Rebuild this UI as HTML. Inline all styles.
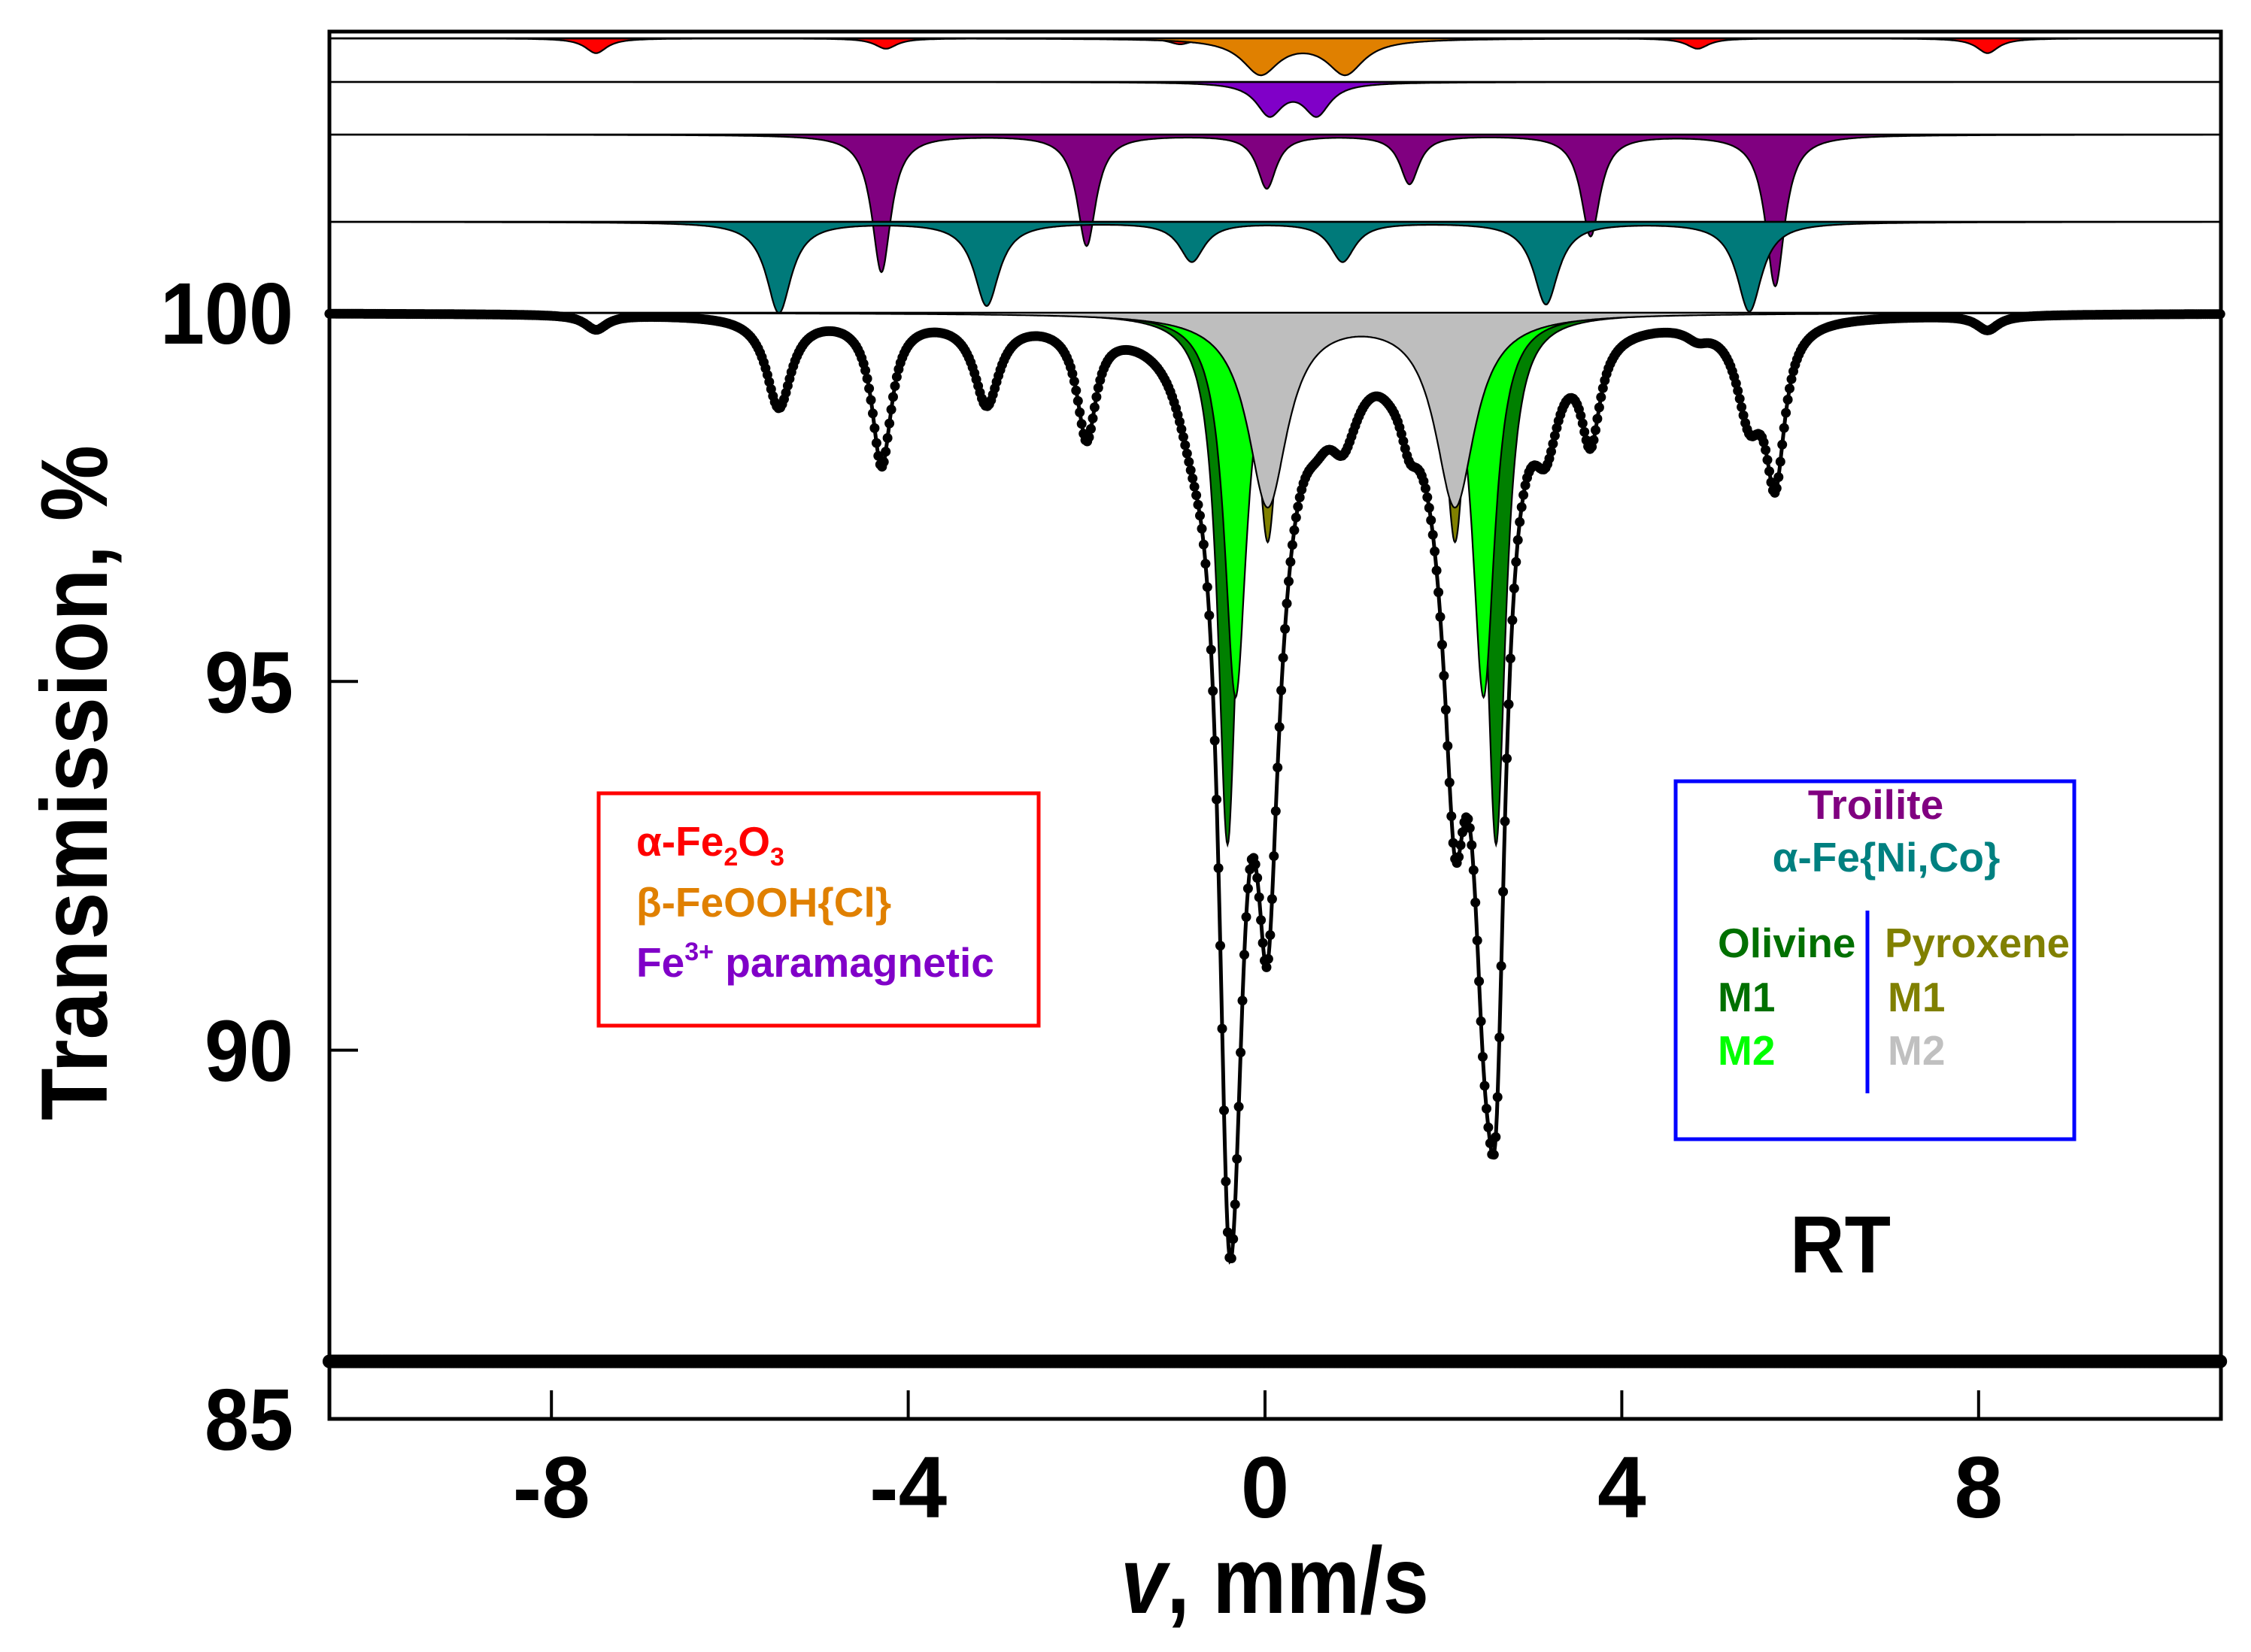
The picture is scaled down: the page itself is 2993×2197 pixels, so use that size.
<!DOCTYPE html>
<html><head><meta charset="utf-8"><style>
html,body{margin:0;padding:0;background:#fff}
svg{display:block}
text{font-family:"Liberation Sans",sans-serif;font-weight:bold}
</style></head><body>
<svg id="chart" width="2993" height="2197" viewBox="0 0 2993 2197" xmlns="http://www.w3.org/2000/svg">
<g id="comps"></g>
<g id="fitg"></g>
<rect x="438" y="42" width="2515" height="1845" fill="none" stroke="#000" stroke-width="5"/>
<g id="axes"></g>
<text x="142" y="1041" transform="rotate(-90 142 1041)" text-anchor="middle" font-size="125" textLength="898" lengthAdjust="spacingAndGlyphs">Transmission, %</text>
<text x="1695" y="2145" text-anchor="middle" font-size="125" textLength="410" lengthAdjust="spacingAndGlyphs"><tspan font-style="italic">v</tspan>, mm/s</text>
<text x="2447" y="1692" text-anchor="middle" font-size="108" textLength="134" lengthAdjust="spacingAndGlyphs">RT</text>
<g>
<rect x="796" y="1055" width="585" height="309" fill="none" stroke="#f00" stroke-width="5"/>
<text x="846" y="1138" font-size="55" fill="#ff0000">α-Fe<tspan font-size="34" dy="13">2</tspan><tspan dy="-13">O</tspan><tspan font-size="34" dy="13">3</tspan></text>
<text x="846" y="1219" font-size="55" fill="#e08000">β-FeOOH{Cl}</text>
<text x="846" y="1299" font-size="55" fill="#8000c8">Fe<tspan font-size="34" dy="-22">3+</tspan><tspan dy="22"> paramagnetic</tspan></text>
</g>
<g>
<rect x="2228" y="1039" width="530" height="476" fill="none" stroke="#0000ff" stroke-width="5"/>
<text x="2494" y="1089" text-anchor="middle" font-size="55" fill="#800080">Troilite</text>
<text x="2508" y="1159" text-anchor="middle" font-size="55" fill="#008080">α-Fe{Ni,Co}</text>
<text x="2284" y="1273" font-size="55" fill="#007000">Olivine</text>
<text x="2506" y="1273" font-size="55" fill="#808000" textLength="246" lengthAdjust="spacingAndGlyphs">Pyroxene</text>
<text x="2284" y="1345" font-size="55" fill="#007000">M1</text>
<text x="2284" y="1416" font-size="55" fill="#00ff00">M2</text>
<text x="2510" y="1345" font-size="55" fill="#808000">M1</text>
<text x="2510" y="1416" font-size="55" fill="#c0c0c0">M2</text>
<line x1="2483" y1="1211" x2="2483" y2="1454" stroke="#0000ff" stroke-width="5"/>
</g>
</svg>
<script>
// axis ranges
const vMin = -10.49, vMax = 10.71;
const xTicks = [-8, -4, 0, 4, 8];
const xTickLabels = ["-8", "-4", "0", "4", "8"];
const yTicks = [85, 90, 95, 100];
const yTickLabels = ["85", "90", "95", "100"];
// hematite sextet
const hemCenters = [-7.5, -4.25, -0.95, 1.4, 4.85, 8.1];
const hemDepths = [0.2, 0.14, 0.08, 0.08, 0.14, 0.2];
// beta-FeOOH doublet
const feoohCenters = [-0.05, 0.9];
const feoohDepths = [0.47, 0.47];
// Fe3+ paramagnetic doublet
const paraCenters = [0.05, 0.58];
const paraDepths = [0.43, 0.43];
// troilite sextet
const troCenters = [-4.3, -2.0, 0.02, 1.62, 3.65, 5.72];
const troDepths = [1.86, 1.5, 0.72, 0.66, 1.37, 2.05];
// alpha-Fe(Ni,Co) sextet
const feniCenters = [-5.45, -3.12, -0.82, 0.87, 3.15, 5.43];
const feniDepths = [1.23, 1.13, 0.53, 0.53, 1.11, 1.21];
// olivine / pyroxene doublets
const olM1Centers = [-0.42, 2.59];
const olM1Depths = [7.2, 7.2];
const olM2Centers = [-0.33, 2.45];
const olM2Depths = [5.2, 5.2];
const pxM1Centers = [0.03, 2.13];
const pxM1Depths = [3.1, 3.1];
const pxM2Centers = [0.03, 2.13];
const pxM2Depths = [2.6, 2.6];

const X = v => 1682 + (v * 118.6);
const Y = p => 1887 - (p - 85) * 98.07;
const PX = 98.07;
const NS = "http://www.w3.org/2000/svg";

function lor(v, cs, ds, g) {
  let s = 0;
  for (let i = 0; i < cs.length; i++) s += ds[i] * g * g / ((v - cs[i]) * (v - cs[i]) + g * g);
  return s;
}
const comps = [
  {c: hemCenters, d: hemDepths, g: 0.15, col: "#ff0000", base: 51, name: "hematite-subspectrum"},
  {c: feoohCenters, d: feoohDepths, g: 0.25, col: "#e08000", base: 51, name: "akaganeite-subspectrum"},
  {c: paraCenters, d: paraDepths, g: 0.18, col: "#8000c8", base: 109, name: "fe3-paramagnetic-subspectrum"},
  {c: troCenters, d: troDepths, g: 0.13, col: "#800080", base: 179, name: "troilite-subspectrum"},
  {c: feniCenters, d: feniDepths, g: 0.17, col: "#007a7a", base: 295, name: "fe-ni-co-subspectrum"},
  {c: olM1Centers, d: olM1Depths, g: 0.13, col: "#008000", base: Y(100), name: "olivine-m1-subspectrum"},
  {c: olM2Centers, d: olM2Depths, g: 0.15, col: "#00ff00", base: Y(100), name: "olivine-m2-subspectrum"},
  {c: pxM1Centers, d: pxM1Depths, g: 0.13, col: "#808000", base: Y(100), name: "pyroxene-m1-subspectrum"},
  {c: pxM2Centers, d: pxM2Depths, g: 0.27, col: "#bebebe", base: Y(100), name: "pyroxene-m2-subspectrum"}
];
const cg = document.getElementById('comps');
comps.forEach(cp => {
  let d = "M" + X(vMin) + "," + cp.base;
  for (let v = vMin; v <= vMax + 1e-9; v += 0.01) {
    d += " L" + X(v).toFixed(1) + "," + (cp.base + lor(v, cp.c, cp.d, cp.g) * PX).toFixed(1);
  }
  d += " L" + X(vMax) + "," + cp.base + " Z";
  const p = document.createElementNS(NS, 'path');
  p.setAttribute('d', d);
  p.setAttribute('fill', cp.col);
  p.setAttribute('stroke', '#000');
  p.setAttribute('stroke-width', '2.2');
  
  
  cg.appendChild(p);
});
[51, 109, 179, 295].forEach(b => {
  const l = document.createElementNS(NS, 'line');
  l.setAttribute('x1', 438); l.setAttribute('x2', 2953);
  l.setAttribute('y1', b); l.setAttribute('y2', b);
  l.setAttribute('stroke', '#000'); l.setAttribute('stroke-width', '2.5');
  
  
  cg.appendChild(l);
});
function total(v) {
  let s = 0;
  comps.forEach(cp => { s += lor(v, cp.c, cp.d, cp.g); });
  return 100 - s;
}
const fg = document.getElementById('fitg');
let fd = "";
for (let v = vMin; v <= vMax + 1e-9; v += 0.01) fd += (fd ? " L" : "M") + X(v).toFixed(1) + "," + Y(total(v)).toFixed(1);
const fit = document.createElementNS(NS, 'path');
fit.setAttribute('d', fd); fit.setAttribute('fill', 'none'); fit.setAttribute('stroke', '#000'); fit.setAttribute('stroke-width', '5');


fg.appendChild(fit);
const resBase = 85.78;
const rl = document.createElementNS(NS, 'line');
rl.setAttribute('x1', 438); rl.setAttribute('x2', 2953); rl.setAttribute('y1', Y(resBase)); rl.setAttribute('y2', Y(resBase));
rl.setAttribute('stroke', '#000'); rl.setAttribute('stroke-width', '16');


fg.appendChild(rl);
const N = 1024;
for (let i = 0; i < N; i++) {
  const v = vMin + (vMax - vMin) * i / (N - 1);
  const c = document.createElementNS(NS, 'circle');
  c.setAttribute('cx', X(v).toFixed(1)); c.setAttribute('cy', Y(total(v)).toFixed(1)); c.setAttribute('r', '6.5');
  
  
  fg.appendChild(c);
  const r = document.createElementNS(NS, 'circle');
  r.setAttribute('cx', X(v).toFixed(1)); r.setAttribute('cy', Y(resBase).toFixed(1)); r.setAttribute('r', '9');
  
  
  fg.appendChild(r);
}
const ag = document.getElementById('axes');
xTicks.forEach((t, i) => {
  const l = document.createElementNS(NS, 'line');
  l.setAttribute('x1', X(t)); l.setAttribute('x2', X(t)); l.setAttribute('y1', 1887); l.setAttribute('y2', 1849);
  l.setAttribute('stroke', '#000'); l.setAttribute('stroke-width', '4');
  
  
  ag.appendChild(l);
  const tx = document.createElementNS(NS, 'text');
  tx.setAttribute('x', X(t)); tx.setAttribute('y', 2018); tx.setAttribute('text-anchor', 'middle'); tx.setAttribute('font-size', '116');
  tx.textContent = xTickLabels[i];
  
  
  ag.appendChild(tx);
});
yTicks.forEach((t, i) => {
  const l = document.createElementNS(NS, 'line');
  l.setAttribute('x1', 438); l.setAttribute('x2', 476); l.setAttribute('y1', Y(t)); l.setAttribute('y2', Y(t));
  l.setAttribute('stroke', '#000'); l.setAttribute('stroke-width', '4');
  
  
  ag.appendChild(l);
  const tx = document.createElementNS(NS, 'text');
  tx.setAttribute('x', 390); tx.setAttribute('y', Y(t) + 41); tx.setAttribute('text-anchor', 'end'); tx.setAttribute('font-size', '116');
  tx.setAttribute('textLength', yTickLabels[i].length * 59); tx.setAttribute('lengthAdjust', 'spacingAndGlyphs');
  tx.textContent = yTickLabels[i];
  
  
  ag.appendChild(tx);
});
</script>
</body></html>
